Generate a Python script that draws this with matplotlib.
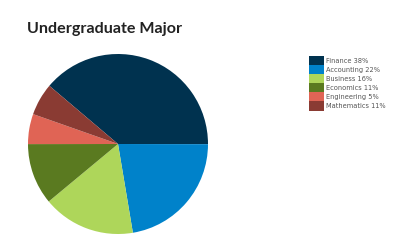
import matplotlib
matplotlib.use("Agg")
import matplotlib.pyplot as plt
from matplotlib.patches import Patch

categories = ["Finance", "Accounting", "Business", "Economics", "Engineering", "Mathematics"]
values = [38.8, 22.3, 16.6, 11.0, 5.4, 5.8]
legend_labels = ["Finance 38%", "Accounting 22%", "Business 16%", "Economics 11%",
                 "Engineering 5%", "Mathematics 11%"]
colors = ["#00324F", "#0082CA", "#AED65A", "#5A7A20", "#E06455", "#8A3B33"]
title = "Undergraduate Major"

fig = plt.figure(figsize=(3.94, 2.40), dpi=100)
fig.patch.set_facecolor("white")

ax = fig.add_axes([28/394, 6/240, 180/394, 180/240])
ax.pie(values, colors=colors, startangle=139.7, counterclock=False,
       wedgeprops=dict(linewidth=0), radius=1.0)
ax.set_xlim(-1, 1)
ax.set_ylim(-1, 1)
ax.set_aspect("equal")
ax.axis("off")

fig.text(27/394, 1 - 33.5/240, title, fontsize=11.6, fontweight="bold",
         color="#222222", ha="left", va="baseline", family="Lato")

handles = [Patch(facecolor=c, edgecolor="none") for c in colors]
fs = 4.8
leg = fig.legend(handles, legend_labels, loc="upper left",
                 bbox_to_anchor=(309/394, 1 - 56/240), frameon=False,
                 fontsize=fs, handlelength=2.25, handleheight=1.72,
                 handletextpad=0.3, labelspacing=0.0, borderpad=0, borderaxespad=0,
                 prop=dict(family="DejaVu Sans", size=fs))
for t in leg.get_texts():
    t.set_color("#555555")

fig.savefig("out.png", dpi=100)
